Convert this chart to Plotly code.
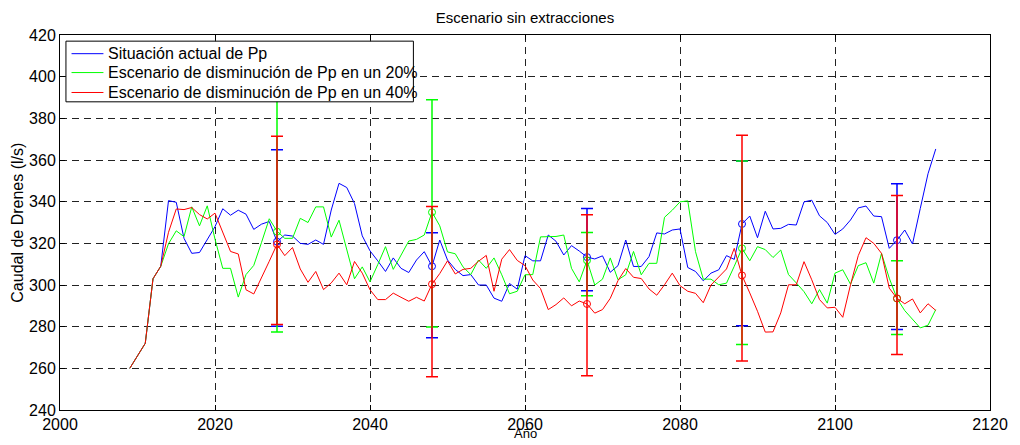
import plotly.graph_objects as go

# Annual series 2009-2113
years = list(range(2009, 2114))

actual_pp = [
    260, 266, 272, 303, 309, 340.5, 339.7, 322.4, 315.2, 315.6,
    321.6, 328, 336.6, 333.5, 335.9, 334, 326.7, 329.2, 330.5, 320.8,
    324, 323.5, 320, 319.5, 321.6, 319.5, 336, 348.8, 346.8, 339.1,
    323.6, 316.4, 311.6, 306.5, 313, 308, 306, 312, 316, 309,
    321.6, 312, 307.5, 304.5, 305, 300, 300, 293.7, 292.2, 300.7,
    298, 314.1, 311.6, 311.6, 324, 321, 314.4, 318.9, 316.3, 313.4,
    312.5, 314, 306.1, 309.3, 321.6, 308.9, 308.9, 313.6, 325, 324.5,
    326.4, 326.9, 308.4, 306.5, 302, 305.7, 307.3, 314.1, 312.3, 329.3,
    333.1, 322.7, 335.4, 326.9, 327.2, 329.1, 328.8, 339.9, 340.7, 333.2,
    330, 324.3, 326.9, 331.2, 337, 337.9, 333.1, 332.8, 317.6, 321.5,
    326.4, 319.7, 336.7, 353.4, 365.3,
]

pp_minus_20 = [
    260, 266, 272, 303, 309, 319.8, 326, 323.2, 337.5, 328.4,
    338, 322, 308, 308, 294.2, 305, 309.4, 320.4, 331.8, 325.8,
    322.4, 322.4, 332, 330, 337.5, 337.5, 323, 331.1, 317, 303,
    308.7, 301.5, 309.8, 318.4, 307.5, 314.1, 321.1, 321.9, 324, 335,
    328.4, 315.9, 315, 308.7, 305, 312, 308, 313, 304.9, 295.8,
    297, 304.9, 305, 323.1, 323.1, 323.3, 324, 308, 301.5, 311.8,
    300, 302.8, 313, 302.5, 304.9, 316.1, 304.9, 310.4, 310.4, 332.5,
    335.9, 339.9, 340.4, 316, 302.8, 302.8, 300.1, 300.9, 309, 317.6,
    311.6, 318.4, 317, 313.2, 316.8, 305, 301, 296.8, 291, 297.8,
    291.3, 305.7, 307.3, 300.4, 309.3, 310.7, 300.9, 315.2, 303.3, 293.5,
    287.7, 283.4, 279.4, 280.7, 288.2,
]

pp_minus_40 = [
    260, 266, 272, 303, 309, 325.3, 336.5, 336.2, 337.2, 333.8,
    331.7, 334.5, 324.8, 316.1, 314.9, 297.7, 295.7, 303.3, 311.4, 319.5,
    314.1, 318, 307.7, 301.3, 306.5, 297.8, 301, 305.7, 300.1, 311.3,
    305.7, 297.7, 293, 293, 296.1, 294.1, 292.2, 294.1, 292.3, 300.4,
    305.5, 311.6, 305.3, 307.5, 308, 311.4, 314.2, 297, 312.4, 317,
    311.8, 309.3, 302.4, 298.3, 288.2, 290.6, 293.8, 290, 292.3, 290.9,
    286.5, 288.2, 293.6, 302.1, 307.9, 303.7, 303.1, 298.1, 295.1, 300.1,
    305.7, 299.7, 297, 296, 291.5, 300, 304, 307.7, 317.6, 304.6,
    296.2, 287.4, 277.4, 277.5, 286.6, 300.1, 300.1, 311.2, 302.5, 293,
    289, 289.3, 284.5, 300.1, 314.1, 322.7, 320, 315.2, 298.5, 293.6,
    291, 293.3, 286.6, 291, 287.8,
]

# Uncertainty ranges at selected years
err_years = [2028, 2048, 2068, 2088, 2108]

actual_mid = [320.8, 309, 313.4, 329.3, 321.5]
actual_hi = [364.9, 325.1, 336.7, 359.5, 348.6]
actual_lo = [280.2, 274.7, 297.2, 280.4, 278.6]

m20_mid = [325.6, 334.9, 311.8, 317.6, 293.5]
m20_hi = [395, 388.9, 325.2, 359.5, 311.6]
m20_lo = [277.5, 279.9, 294.8, 271.5, 276.2]

m40_mid = [319.5, 300.4, 290.9, 304.6, 293.6]
m40_hi = [371.4, 337.7, 333.7, 371.9, 343]
m40_lo = [281, 256, 256.4, 263.5, 266.7]

series_names = [
    "Situación actual de Pp",
    "Escenario de disminución de Pp en un 20%",
    "Escenario de disminución de Pp en un 40%",
]
colors = ["#0000FF", "#00FF00", "#FF0000"]

x_ticks = [2000, 2020, 2040, 2060, 2080, 2100, 2120]
y_ticks = [240, 260, 280, 300, 320, 340, 360, 380, 400, 420]

FONT = "Liberation Sans, Arial, Helvetica, sans-serif"

fig = go.Figure()

lines = [actual_pp, pp_minus_20, pp_minus_40]
bars = [
    (actual_mid, actual_hi, actual_lo),
    (m20_mid, m20_hi, m20_lo),
    (m40_mid, m40_hi, m40_lo),
]

for name, color, vals, (mid, hi, lo) in zip(series_names, colors, lines, bars):
    fig.add_trace(go.Scatter(
        x=years, y=vals, mode="lines", name=name, showlegend=False,
        line=dict(color=color, width=1),
    ))
    fig.add_trace(go.Scatter(
        x=err_years, y=mid, mode="markers", showlegend=False,
        marker=dict(symbol="circle-open", size=7, color=color,
                    line=dict(width=1, color=color)),
        error_y=dict(
            type="data", symmetric=False,
            array=[h - m for h, m in zip(hi, mid)],
            arrayminus=[m - l for m, l in zip(mid, lo)],
            color=color, thickness=1.5, width=6,
        ),
    ))

axis_common = dict(
    showline=True, linecolor="black", linewidth=1, mirror="ticks",
    ticks="inside", ticklen=5, tickcolor="black", tickwidth=1,
    showgrid=True, gridcolor="#222222", gridwidth=1, griddash="7px,5px",
    zeroline=False,
    tickfont=dict(family=FONT, size=16, color="black"),
)

fig.update_xaxes(range=[2000, 2120], tickvals=x_ticks, **axis_common)
fig.update_yaxes(range=[240, 420], tickvals=y_ticks, **axis_common)

# Boxed legend in the upper-left corner of the axes (paper coordinates)
legend_box = dict(x0=0.0064, x1=0.380, y0=0.8218, y1=0.9836)
legend_rows = [0.9502, 0.8998, 0.8467]
sample_x = (0.0124, 0.0467)
text_x = 0.0490

shapes = [dict(type="rect", xref="paper", yref="paper", layer="above",
               line=dict(color="black", width=1), fillcolor="white",
               **legend_box)]
annotations = []
for name, color, ry in zip(series_names, colors, legend_rows):
    shapes.append(dict(type="line", xref="paper", yref="paper", layer="above",
                       x0=sample_x[0], x1=sample_x[1], y0=ry, y1=ry,
                       line=dict(color=color, width=1)))
    annotations.append(dict(text=name, xref="paper", yref="paper",
                            x=text_x, y=ry, xanchor="left", yanchor="middle",
                            showarrow=False,
                            font=dict(family=FONT, size=16, color="black")))

annotations += [
    dict(text="Año", xref="paper", yref="paper", x=0.5, y=-0.0859,
         xanchor="center", yanchor="bottom", showarrow=False, borderpad=0,
         font=dict(family=FONT, size=13, color="black")),
    dict(text="Caudal de Drenes (l/s)", xref="paper", yref="paper",
         x=-0.046, y=0.5, xanchor="center", yanchor="middle",
         textangle=-90, showarrow=False,
         font=dict(family=FONT, size=16, color="black")),
]

fig.update_layout(
    width=1020, height=445,
    margin=dict(l=60, r=18, t=35, b=32),
    paper_bgcolor="white", plot_bgcolor="white",
    font=dict(family=FONT, size=16, color="black"),
    showlegend=False,
    title=dict(
        text="Escenario sin extracciones",
        x=0.5, xref="paper", y=1 - 18 / 445, yanchor="middle",
        font=dict(family=FONT, size=15, color="black"),
    ),
    shapes=shapes,
    annotations=annotations,
)

fig.write_html("out.html")
